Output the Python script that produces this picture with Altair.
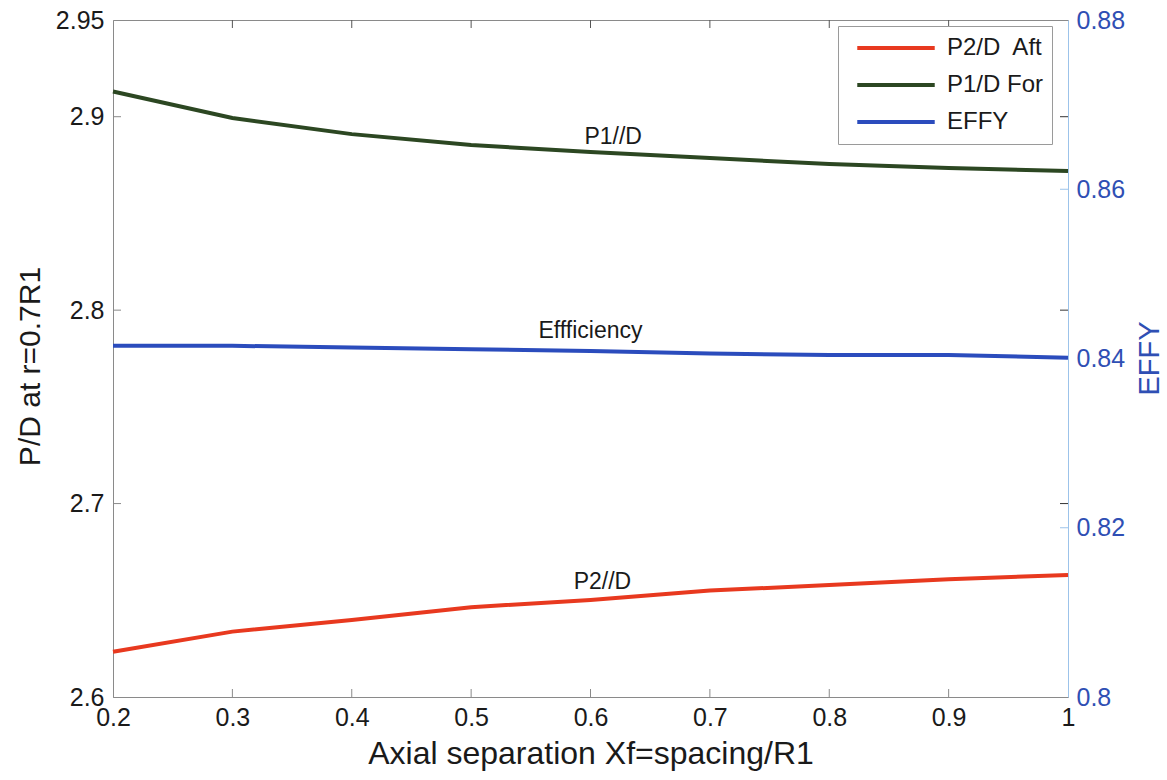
import altair as alt
import pandas as pd

# Axial separation (spacing / R1)
xf = [0.2, 0.3, 0.4, 0.5, 0.6, 0.7, 0.8, 0.9, 1.0]

# Pitch ratio at r = 0.7 R1 for the forward and aft rotors
p1_for = [2.913, 2.8993, 2.891, 2.8854, 2.8817, 2.8786, 2.8755, 2.8735, 2.8719]
p2_aft = [2.6234, 2.6338, 2.6398, 2.6464, 2.6502, 2.6550, 2.6579, 2.6609, 2.6631]

# Propulsor efficiency
effy = [0.8415, 0.8415, 0.8413, 0.8411, 0.8409, 0.8406, 0.8404, 0.8404, 0.8401]

series_names = ["P2/D\u00a0 Aft", "P1/D For", "EFFY"]
series_colors = ["#e8391f", "#2c4722", "#2b4cbd"]

# In-plot curve annotations
note_text = ["P1//D", "Effficiency", "P2//D"]
note_x = [0.619, 0.60, 0.61]
note_y = [2.8895, 2.7892, 2.6594]

x_ticks = [0.2, 0.3, 0.4, 0.5, 0.6, 0.7, 0.8, 0.9, 1.0]
inner_x_ticks = [0.3, 0.4, 0.5, 0.6, 0.7, 0.8, 0.9]
pd_ticks = [2.6, 2.7, 2.8, 2.9, 2.95]
inner_pd_ticks = [2.7, 2.8, 2.9]
effy_ticks = [0.8, 0.82, 0.84, 0.86, 0.88]
inner_effy_ticks = [0.82, 0.84, 0.86]

W, H = 955, 677
TICK = 8
FONT = "Liberation Sans"
INK = "#1a1a1a"
BLUE_TEXT = "#2f4fb4"

pitch = pd.DataFrame({
    "xf": xf + xf,
    "value": p2_aft + p1_for,
    "series": [series_names[0]] * len(xf) + [series_names[1]] * len(xf),
})
eff = pd.DataFrame({"xf": xf, "value": effy, "series": series_names[2]})
notes = pd.DataFrame({"xf": note_x, "value": note_y, "label": note_text})
xt = pd.DataFrame({"xf": inner_x_ticks})
lt = pd.DataFrame({"value": inner_pd_ticks})
rt = pd.DataFrame({"value": inner_effy_ticks})

x_enc = alt.X(
    "xf:Q",
    scale=alt.Scale(domain=[0.2, 1.0], nice=False, zero=False),
    axis=alt.Axis(
        values=x_ticks, format="~g", title="Axial separation Xf=spacing/R1",
        ticks=False, grid=False, labelFlush=False, labelOverlap=False,
        labelFontSize=25, labelPadding=8, labelColor=INK,
        titleFontSize=32, titleFontWeight="normal",
        titleColor=INK, titlePadding=8, domainColor="#8a8a8a",
    ),
)
left_y = alt.Y(
    "value:Q",
    scale=alt.Scale(domain=[2.6, 2.95], nice=False, zero=False),
    axis=alt.Axis(
        orient="left", values=pd_ticks, format="~g", title="P/D at r=0.7R1",
        ticks=False, grid=False, labelOverlap=False,
        labelFontSize=25, labelPadding=9, labelColor=INK,
        titleFontSize=30, titleFontWeight="normal",
        titleColor=INK, titleX=-68, titleY=346, domainColor="#8a8a8a",
    ),
)
right_y = alt.Y(
    "value:Q",
    scale=alt.Scale(domain=[0.8, 0.88], nice=False, zero=False),
    axis=alt.Axis(
        orient="right", values=effy_ticks, format="~g", title="EFFY",
        ticks=False, grid=False, labelOverlap=False,
        labelFontSize=25, labelPadding=8, labelColor=BLUE_TEXT,
        titleFontSize=29, titleFontWeight="normal",
        titleColor=BLUE_TEXT, titleAngle=270, titleBaseline="top",
        titleX=67, titleY=338, domainColor="#9cc3ea",
    ),
)
color_enc = alt.Color(
    "series:N",
    scale=alt.Scale(domain=series_names, range=series_colors),
    legend=alt.Legend(
        title=None, orient="none", legendX=725, legendY=6,
        symbolType="stroke", symbolSize=6000, symbolStrokeWidth=4,
        symbolOffset=9, clipHeight=28, rowPadding=9,
        labelFontSize=24, labelColor=INK, labelOffset=10,
        padding=8, strokeColor="#9a9a9a", fillColor="white", cornerRadius=0,
    ),
)

pitch_lines = alt.Chart(pitch).mark_line(strokeWidth=4).encode(
    x=x_enc, y=left_y, color=color_enc
)
labels = alt.Chart(notes).mark_text(
    fontSize=23, font=FONT, color=INK, baseline="middle", align="center"
).encode(x=x_enc, y=left_y, text="label:N")

# Inward-facing tick marks on all four sides of the box
left_ticks = alt.Chart(lt).mark_rule(color="#8a8a8a").encode(
    y=left_y, x=alt.value(0), x2=alt.value(TICK)
)
left_ticks_mirror = alt.Chart(lt).mark_rule(color="#333333").encode(
    y=left_y, x=alt.value(W - TICK), x2=alt.value(W)
)
bottom_ticks = alt.Chart(xt).mark_rule(color="#8a8a8a").encode(
    x=x_enc, y=alt.value(H), y2=alt.value(H - TICK)
)
top_ticks = alt.Chart(xt).mark_rule(color="#555555").encode(
    x=x_enc, y=alt.value(0), y2=alt.value(TICK)
)
left_group = alt.layer(
    left_ticks, left_ticks_mirror, bottom_ticks, top_ticks, pitch_lines, labels
)

eff_line = alt.Chart(eff).mark_line(strokeWidth=4).encode(
    x=x_enc, y=right_y, color=color_enc
)
right_ticks = alt.Chart(rt).mark_rule(color="#9cc3ea").encode(
    y=right_y, x=alt.value(W - TICK), x2=alt.value(W)
)
right_group = alt.layer(right_ticks, eff_line)

chart = (
    alt.layer(left_group, right_group)
    .resolve_scale(y="independent")
    .properties(
        width=W, height=H,
        autosize=alt.AutoSizeParams(type="none"),
        padding={"left": 113, "top": 20, "right": 99, "bottom": 83},
        background="white",
    )
    .configure(font=FONT)
    .configure_view(stroke="#8a8a8a", strokeWidth=1)
)

chart.save("out.html", embed_options={"renderer": "svg", "actions": False})
